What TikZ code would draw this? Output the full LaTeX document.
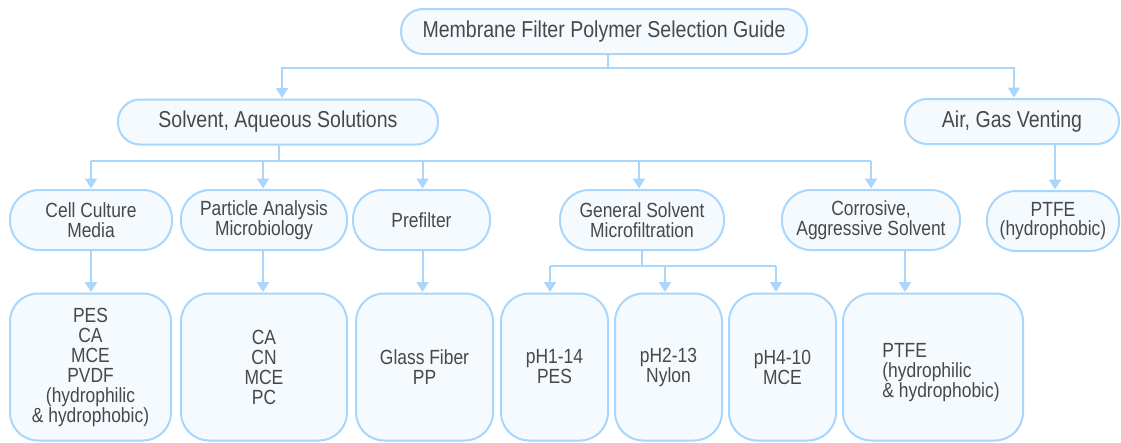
\documentclass[tikz,border=0pt]{standalone}
\usepackage{fontspec}
\setmainfont{Liberation Sans}[FakeStretch=0.85]
\usetikzlibrary{arrows.meta}
\definecolor{bord}{HTML}{A8D6FD}
\definecolor{fillc}{HTML}{F5FAFF}
\definecolor{txt}{HTML}{484848}
\tikzset{
  box/.style={draw=bord, fill=fillc, line width=2pt, text=txt, inner sep=0pt, align=center},
  big/.style={box, rounded corners=22pt, minimum height=45pt, font=\fontsize{23}{22}\selectfont},
  mid/.style={box, rounded corners=29pt, minimum height=60pt, font=\fontsize{20.5}{19.5}\selectfont},
  low/.style={box, rounded corners=28pt, minimum height=147pt, font=\fontsize{20.5}{20}\selectfont},
  conn/.style={draw=bord, line width=2pt},
  arr/.style={conn, -{Triangle[width=12pt,length=10pt]}, shorten >=0.5pt}
}
\begin{document}
\begin{tikzpicture}[x=1pt,y=-1pt]
\useasboundingbox (0,0) rectangle (1121,442);
% level 0
\node[big, minimum width=406pt] (title) at (604,31.5) {Membrane Filter Polymer Selection Guide};
% level 1
\node[big, minimum width=320pt] (sol) at (278,122) {Solvent, Aqueous Solutions};
\node[big, minimum width=214pt] (air) at (1012,121.5) {Air, Gas Venting};
% level 2
\node[mid, minimum width=162pt] (cell) at (91,220) {Cell Culture\\Media};
\node[mid, minimum width=166pt] (part) at (264,220) {Particle Analysis\\Microbiology};
\node[mid, minimum width=137pt] (pre) at (421.5,220) {Prefilter};
\node[mid, minimum width=164pt] (gen) at (642,220) {General Solvent\\Microfiltration};
\node[mid, minimum width=178pt] (cor) at (871,220) {Corrosive,\\Aggressive Solvent};
\node[mid, minimum width=132pt] (ptfeh) at (1053,221) {PTFE\\(hydrophobic)};
% level 3
\node[low, minimum width=161pt] (r1) at (90.5,367) {PES\\CA\\MCE\\PVDF\\(hydrophilic\\\& hydrophobic)};
\node[low, minimum width=166pt] (r2) at (264,367) {CA\\CN\\MCE\\PC};
\node[low, minimum width=137pt] (r3) at (424.5,367) {Glass Fiber\\PP};
\node[low, minimum width=107pt] (r4) at (554.5,367) {pH1-14\\PES};
\node[low, minimum width=107pt] (r5) at (668.5,367) {pH2-13\\Nylon};
\node[low, minimum width=107pt] (r6) at (782.5,367) {pH4-10\\MCE};
\node[low, minimum width=180pt] (r7) at (933,367) {};
\node[text=txt, align=left, inner sep=0pt, font=\fontsize{20.5}{20}\selectfont] (r7t) at (941,373) {PTFE\\(hydrophilic\\\& hydrophobic)};
% connectors level 0 -> 1
\coordinate (tj) at (608,68);
\coordinate (ta) at (282,68);
\coordinate (tb) at (1014,68);
\draw[conn] (title.south -| tj) -- (tj);
\draw[arr] (tj) -- (ta) -- (ta |- sol.north);
\draw[arr] (tj) -- (tb) -- (tb |- air.north);
% level 1 -> 2
\coordinate (sj) at (278.6,161);
\coordinate (s1) at (91,161);
\coordinate (s2) at (263,161);
\coordinate (s3) at (422.5,161);
\coordinate (s4) at (639,161);
\coordinate (s5) at (871,161);
\draw[conn] (sol.south -| sj) -- (sj);
\draw[conn] (s1) -- (s5);
\draw[arr] (s1) -- (s1 |- cell.north);
\draw[arr] (s2) -- (s2 |- part.north);
\draw[arr] (s3) -- (s3 |- pre.north);
\draw[arr] (s4) -- (s4 |- gen.north);
\draw[arr] (s5) -- (s5 |- cor.north);
\coordinate (aj) at (1055,144);
\draw[arr] (air.south -| aj) -- (aj |- ptfeh.north);
% level 2 -> 3
\draw[arr] (cell.south) -- (r1.north -| cell.south);
\coordinate (pj) at (263,250);
\draw[arr] (part.south -| pj) -- (r2.north -| pj);
\coordinate (qj) at (422.5,250);
\draw[arr] (pre.south -| qj) -- (r3.north -| qj);
\coordinate (gj) at (642,266);
\coordinate (g1) at (550,266);
\coordinate (g2) at (665,266);
\coordinate (g3) at (776,266);
\draw[conn] (gen.south) -- (gj);
\draw[conn] (g1) -- (g3);
\draw[arr] (g1) -- (g1 |- r4.north);
\draw[arr] (g2) -- (g2 |- r5.north);
\draw[arr] (g3) -- (g3 |- r6.north);
\coordinate (cj) at (905,250);
\draw[arr] (cor.south -| cj) -- (cj |- r7.north);
\end{tikzpicture}
\end{document}
